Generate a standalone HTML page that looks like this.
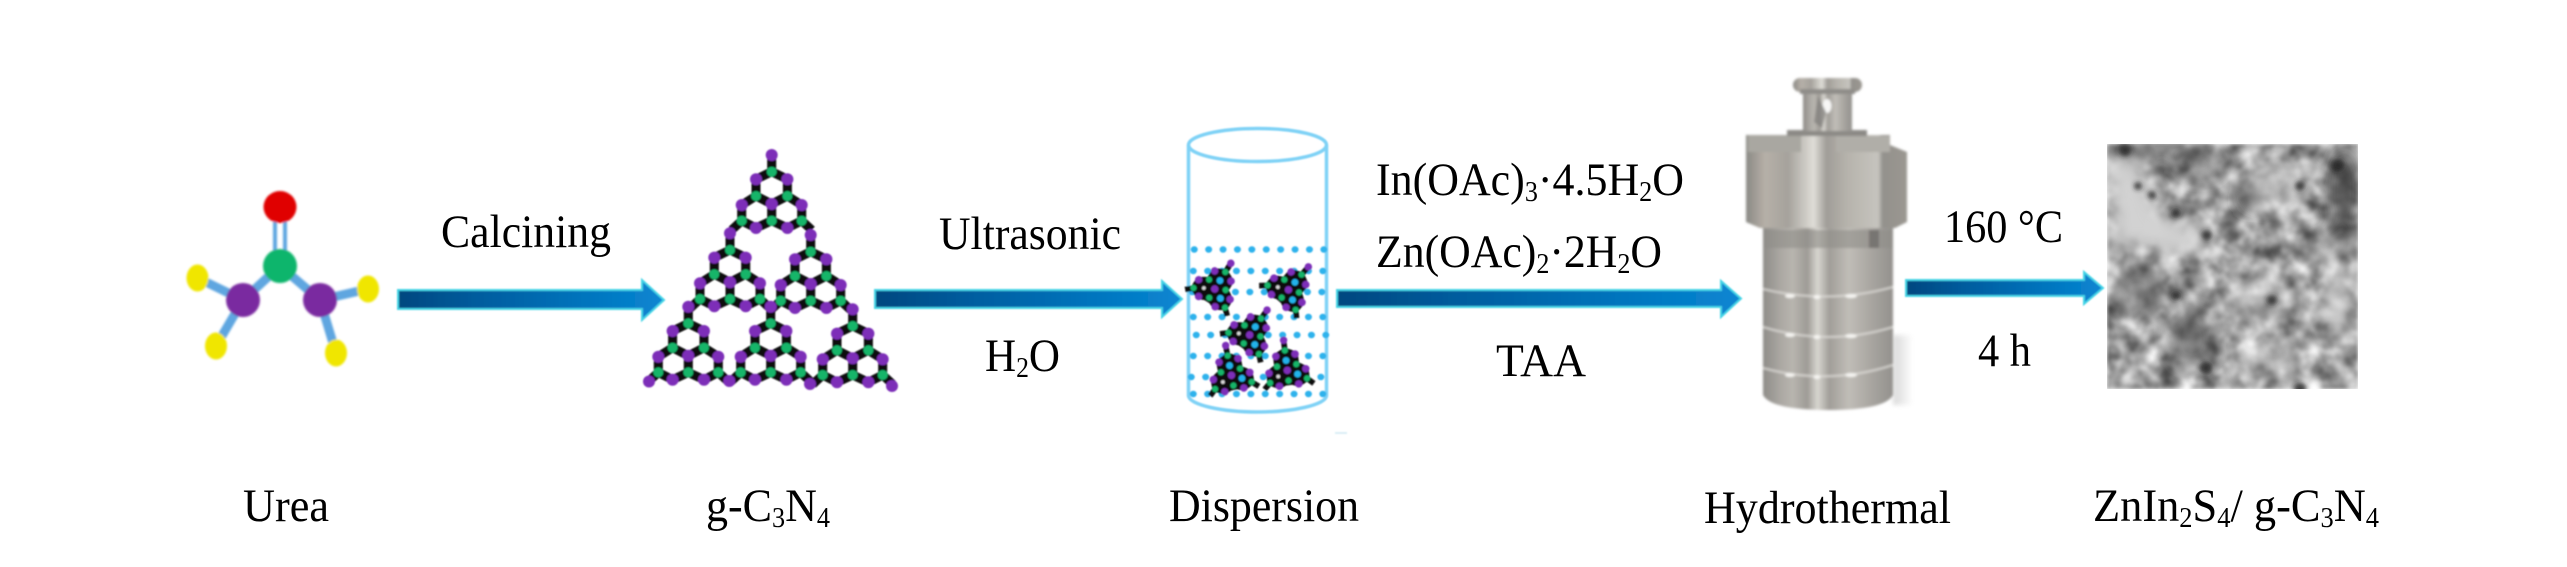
<!DOCTYPE html>
<html>
<head>
<meta charset="utf-8">
<style>
html,body{margin:0;padding:0;background:#fff;width:2567px;height:567px;overflow:hidden}
svg{display:block}
text{font-family:"Liberation Serif","Noto Serif CJK SC",serif;font-size:47px;fill:#000}
tspan.s{font-size:28px}
</style>
</head>
<body>
<svg xmlns="http://www.w3.org/2000/svg" width="2567" height="567" viewBox="0 0 2567 567">
<defs>
<linearGradient id="ag" x1="0" y1="0" x2="1" y2="0">
<stop offset="0" stop-color="#00477f"/><stop offset=".3" stop-color="#005c9e"/><stop offset=".7" stop-color="#0074bd"/><stop offset="1" stop-color="#0a86d2"/>
</linearGradient>
<linearGradient id="m1" x1="0" y1="0" x2="1" y2="0">
<stop offset="0" stop-color="#8a8a85"/><stop offset=".08" stop-color="#a8a39c"/><stop offset=".12" stop-color="#b6b0a8"/><stop offset=".26" stop-color="#a5a29c"/><stop offset=".42" stop-color="#dfddd7"/><stop offset=".5" stop-color="#a09d98"/><stop offset=".63" stop-color="#b6b3ac"/><stop offset=".82" stop-color="#c6c4be"/><stop offset=".85" stop-color="#93918c"/><stop offset="1" stop-color="#9b9791"/>
</linearGradient>
<linearGradient id="m2" x1="0" y1="0" x2="1" y2="0">
<stop offset="0" stop-color="#8e8c88"/><stop offset=".13" stop-color="#aaa7a2"/><stop offset=".23" stop-color="#b8b5af"/><stop offset=".34" stop-color="#9e9b96"/><stop offset=".42" stop-color="#d8d6d0"/><stop offset=".51" stop-color="#a19e99"/><stop offset=".66" stop-color="#c0bdb7"/><stop offset=".82" stop-color="#aaa7a2"/><stop offset="1" stop-color="#93918d"/>
</linearGradient>
<linearGradient id="shd" x1="0" y1="0" x2="1" y2="0">
<stop offset="0" stop-color="#cfcfcf"/><stop offset="1" stop-color="#ffffff"/>
</linearGradient>
<filter id="b1" x="-10%" y="-10%" width="120%" height="120%"><feGaussianBlur stdDeviation="1"/></filter>
<filter id="b2" x="-10%" y="-10%" width="120%" height="120%"><feGaussianBlur stdDeviation="0.8"/></filter>
<filter id="b3" x="-50%" y="-50%" width="200%" height="200%"><feGaussianBlur stdDeviation="8"/></filter>
<filter id="b5" x="-50%" y="-50%" width="200%" height="200%"><feGaussianBlur stdDeviation="2.5"/></filter>
<filter id="b4" x="-5%" y="-5%" width="110%" height="110%"><feGaussianBlur stdDeviation="1.3"/></filter>
<filter id="sem" x="0" y="0" width="100%" height="100%" color-interpolation-filters="sRGB">
<feTurbulence type="fractalNoise" baseFrequency="0.05" numOctaves="3" seed="7"/>
<feColorMatrix type="matrix" values="1.1 0 0 0 0.08  1.1 0 0 0 0.08  1.1 0 0 0 0.08  0 0 0 0 1"/>
<feGaussianBlur stdDeviation="1.5"/>
</filter>
<clipPath id="semc"><rect x="2107" y="144" width="251" height="245"/></clipPath>

<g id="u">
<path d="M0 0V16.7M0 16.7L15.7 24.3V41L0 49L-15.7 41V24.3ZM-15.7 41L-30 50V65.7L-15.7 73L0 65.7V49M15.7 41L30 50V65.7L15.7 73L0 65.7M-30 65.7L-40 75M30 65.7L40 75" stroke="#0a0a0a" stroke-width="9" fill="none" stroke-linejoin="round"/>
<g fill="#7d2fb8">
<circle cx="0" cy="0" r="6"/><circle cx="-15.7" cy="24.3" r="6"/><circle cx="15.7" cy="24.3" r="6"/><circle cx="0" cy="49" r="6"/><circle cx="-30" cy="50" r="6"/><circle cx="30" cy="50" r="6"/><circle cx="-15.7" cy="73" r="6"/><circle cx="15.7" cy="73" r="6"/>
</g>
<g fill="#12b569">
<circle cx="0" cy="16.7" r="5"/><circle cx="-15.7" cy="41" r="5"/><circle cx="15.7" cy="41" r="5"/><circle cx="-30" cy="65.7" r="5"/><circle cx="0" cy="65.7" r="5"/><circle cx="30" cy="65.7" r="5"/>
</g>
</g>

<g id="m" transform="translate(0,-28) scale(.62)">
<path d="M0 16.700L15.700 24.300V41L30 50V65.700L15.700 73H-15.700L-30 65.700V50L-15.700 41V24.300Z" fill="#0a0a0a"/>
<use href="#u"/>
<circle cx="0" cy="33" r="5.500" fill="#22b2ea"/>
<circle cx="15.700" cy="57" r="5.500" fill="#22b2ea"/>
<circle cx="-15.700" cy="57" r="3" fill="#d8d8d8"/>
</g>
</defs>

<rect width="2567" height="567" fill="#fff"/>

<!-- Urea molecule -->
<g filter="url(#b1)">
<g stroke="#5fa6e0" fill="none">
<path d="M275 220V255M285 220V255" stroke-width="4"/>
<path d="M280 266L243 300M280 266L320 300M243 300L197.500 278M243 300L216 346M320 300L368 289M320 300L336 353" stroke-width="9"/>
</g>
<ellipse cx="280" cy="207" rx="16.500" ry="16" fill="#e00000"/>
<ellipse cx="280" cy="266" rx="17" ry="17" fill="#10b56c"/>
<ellipse cx="243" cy="300" rx="17" ry="17" fill="#7a2ba0"/>
<ellipse cx="320" cy="300" rx="17" ry="17" fill="#7a2ba0"/>
<ellipse cx="197.500" cy="278" rx="11" ry="13.500" fill="#f0e600"/>
<ellipse cx="216" cy="346" rx="11" ry="13.500" fill="#f0e600"/>
<ellipse cx="368" cy="289" rx="11" ry="13.500" fill="#f0e600"/>
<ellipse cx="336" cy="353" rx="11" ry="13.500" fill="#f0e600"/>
</g>

<!-- Arrows -->
<g filter="url(#b2)">
<path d="M398 290H642V280L664 300L642 320V309H398Z" fill="url(#ag)" stroke="#45d4e6" stroke-width="2"/>
<path d="M875 290H1162V281L1182 299L1162 317V308H875Z" fill="url(#ag)" stroke="#45d4e6" stroke-width="2"/>
<path d="M1337 290H1721V281L1741 298.500L1721 317V307H1337Z" fill="url(#ag)" stroke="#45d4e6" stroke-width="2"/>
<path d="M1906 280H2084V272L2103 288L2084 304V296H1906Z" fill="url(#ag)" stroke="#45d4e6" stroke-width="2"/>
</g>

<!-- g-C3N4 -->
<g filter="url(#b2)">
<use href="#u" x="771.700" y="155"/>
<use href="#u" x="730" y="233.300"/>
<use href="#u" x="810.700" y="235"/>
<use href="#u" x="688.300" y="306.700"/>
<use href="#u" x="770.700" y="306.700"/>
<use href="#u" x="852.700" y="309.300"/>
<g fill="#7d2fb8">
<circle cx="649" cy="381.500" r="6"/><circle cx="729.300" cy="381" r="6"/><circle cx="810" cy="384" r="6"/><circle cx="892" cy="386" r="6"/>
</g>
</g>

<!-- Beaker -->
<g filter="url(#b2)">
<g fill="none" stroke="#7fd2f6" stroke-width="3.500">
<ellipse cx="1257.500" cy="145" rx="69" ry="16.500"/>
<path d="M1188.500 145V396C1190 405 1222 412 1257.500 412C1293 412 1325 405 1326.500 396V145"/>
</g>
<g fill="none" stroke="#2fb2ec" stroke-width="6.500" stroke-linecap="round" stroke-dasharray="0.500 13.900">
<path d="M1194 249.500H1326"/>
<path d="M1193 271H1326"/>
<path d="M1192 292H1330"/>
<path d="M1193 317H1326"/>
<path d="M1196 335H1326"/>
<path d="M1193 356H1324"/>
<path d="M1191 377H1326"/>
<path d="M1193 394H1324"/>
</g>
<use href="#m" transform="translate(1216 287) rotate(32)"/>
<use href="#m" transform="translate(1290 288) rotate(41)"/>
<use href="#m" transform="translate(1251 333) rotate(35)"/>
<use href="#m" transform="translate(1231 373) rotate(-11)"/>
<use href="#m" transform="translate(1287 368) rotate(-7)"/>
<path d="M1335 433h12" stroke="#cfe9f2" stroke-width="1.500"/>
</g>

<!-- Reactor -->
<rect x="1893" y="335" width="20" height="70" fill="url(#shd)" opacity=".8" filter="url(#b5)"/>
<g filter="url(#b4)">
<path d="M1763 226H1893V395Q1885 410 1828 410Q1771 410 1763 395Z" fill="url(#m2)"/>
<rect x="1763" y="230" width="130" height="18" fill="#8f8d89" opacity=".6"/>
<rect x="1869" y="230" width="10" height="18" fill="#6f6d6a" opacity=".8"/>
<g stroke="#e2e0dc" stroke-width="1.800" opacity=".85" fill="none">
<path d="M1763 289Q1828 305 1893 287"/>
<path d="M1763 327Q1828 347 1893 327"/>
<path d="M1763 368Q1828 386 1893 365"/>
</g>
<g fill="#f6f5f2">
<ellipse cx="1790" cy="296" rx="5" ry="2"/><ellipse cx="1817" cy="297" rx="3.500" ry="2"/><ellipse cx="1851" cy="296" rx="6" ry="2"/>
<ellipse cx="1790" cy="335" rx="5" ry="2"/><ellipse cx="1817" cy="337" rx="3.500" ry="2"/><ellipse cx="1851" cy="336" rx="6" ry="2"/>
<ellipse cx="1790" cy="375" rx="5" ry="2"/><ellipse cx="1817" cy="377" rx="3.500" ry="2"/><ellipse cx="1851" cy="375" rx="6" ry="2"/>
</g>
<path d="M1746 135H1890V145L1907 152V222L1895 228H1760L1746 222Z" fill="url(#m1)"/>
<path d="M1748 135H1801V152H1748Z" fill="#a9a7a1"/>
<path d="M1836 136H1890V152H1836Z" fill="#b0aea8"/>
<rect x="1787" y="130" width="80" height="6" fill="#8c8a86"/>
<rect x="1803" y="93" width="49" height="38" fill="url(#m2)"/>
<ellipse cx="1827" cy="106" rx="4.500" ry="7" fill="#f7f7f6"/>
<path d="M1818 96L1814 122L1822 128L1826 112Z" fill="#7f7d7a" opacity=".7"/>
<rect x="1793" y="78" width="69" height="14" rx="7" fill="url(#m1)"/>
<rect x="1800" y="89" width="55" height="5" fill="#8f8d89"/>
</g>

<!-- SEM micrograph -->
<g clip-path="url(#semc)">
<rect x="2107" y="144" width="251" height="245" fill="#a8a8a8" filter="url(#sem)"/>
<g filter="url(#b3)">
<path d="M2108 162L2135 156L2156 212L2205 235L2195 258L2142 245L2115 248Z" fill="#d2d2d2"/>
<ellipse cx="2278" cy="185" rx="30" ry="22" fill="#d0d0d0" opacity=".65"/>
<ellipse cx="2338" cy="302" rx="14" ry="32" fill="#dcdcdc" opacity=".75"/>
<ellipse cx="2258" cy="300" rx="30" ry="26" fill="#cfcfcf" opacity=".45"/>
<ellipse cx="2270" cy="360" rx="30" ry="20" fill="#cfcfcf" opacity=".4"/>
<ellipse cx="2248" cy="200" rx="11" ry="14" fill="#2a2a2a" opacity=".85"/>
<ellipse cx="2344" cy="190" rx="14" ry="42" fill="#3a3a3a" opacity=".8"/>
<ellipse cx="2160" cy="151" rx="50" ry="7" fill="#3a3a3a" opacity=".75"/>
<ellipse cx="2200" cy="165" rx="22" ry="14" fill="#606060" opacity=".55"/>
<ellipse cx="2138" cy="292" rx="24" ry="26" fill="#6a6a6a" opacity=".6"/>
<ellipse cx="2192" cy="338" rx="24" ry="30" fill="#5a5a5a" opacity=".6"/>
<ellipse cx="2310" cy="250" rx="22" ry="8" fill="#8a8a8a" opacity=".4"/>
<ellipse cx="2340" cy="245" rx="18" ry="18" fill="#555" opacity=".5"/>
</g>
<g filter="url(#b5)" fill="#222" opacity=".8">
<circle cx="2138" cy="186" r="4"/><circle cx="2152" cy="195" r="4"/><circle cx="2207" cy="235" r="5"/><circle cx="2176" cy="213" r="4"/>
<circle cx="2338" cy="165" r="6"/><circle cx="2300" cy="186" r="5"/><circle cx="2300" cy="389" r="6"/><circle cx="2206" cy="368" r="6"/>
<circle cx="2176" cy="296" r="4"/><circle cx="2272" cy="300" r="5"/><circle cx="2125" cy="150" r="6"/>
</g>
</g>

<!-- Labels -->
<text x="441" y="247" textLength="170" lengthAdjust="spacingAndGlyphs">Calcining</text>
<text x="243" y="521" textLength="86" lengthAdjust="spacingAndGlyphs">Urea</text>
<text x="706" y="521" textLength="124" lengthAdjust="spacingAndGlyphs">g-C<tspan class="s" dy="6">3</tspan><tspan dy="-6">N</tspan><tspan class="s" dy="6">4</tspan></text>
<text x="939" y="249" textLength="182" lengthAdjust="spacingAndGlyphs">Ultrasonic</text>
<text x="985" y="371" textLength="75" lengthAdjust="spacingAndGlyphs">H<tspan class="s" dy="6">2</tspan><tspan dy="-6">O</tspan></text>
<text x="1169" y="521" textLength="190" lengthAdjust="spacingAndGlyphs">Dispersion</text>
<text x="1376" y="195" textLength="308" lengthAdjust="spacingAndGlyphs">In(OAc)<tspan class="s" dy="6">3</tspan><tspan dy="-6">·4.5H</tspan><tspan class="s" dy="6">2</tspan><tspan dy="-6">O</tspan></text>
<text x="1376" y="267" textLength="286" lengthAdjust="spacingAndGlyphs">Zn(OAc)<tspan class="s" dy="6">2</tspan><tspan dy="-6">·2H</tspan><tspan class="s" dy="6">2</tspan><tspan dy="-6">O</tspan></text>
<text x="1496" y="376" textLength="90" lengthAdjust="spacingAndGlyphs">TAA</text>
<text x="1944" y="242" textLength="119" lengthAdjust="spacingAndGlyphs">160 °C</text>
<text x="1978" y="366" textLength="53" lengthAdjust="spacingAndGlyphs">4 h</text>
<text x="1704" y="523" textLength="247" lengthAdjust="spacingAndGlyphs">Hydrothermal</text>
<text x="2093" y="521" textLength="286" lengthAdjust="spacingAndGlyphs">ZnIn<tspan class="s" dy="6">2</tspan><tspan dy="-6">S</tspan><tspan class="s" dy="6">4</tspan><tspan dy="-6">/ g-C</tspan><tspan class="s" dy="6">3</tspan><tspan dy="-6">N</tspan><tspan class="s" dy="6">4</tspan></text>
</svg>
</body>
</html>
